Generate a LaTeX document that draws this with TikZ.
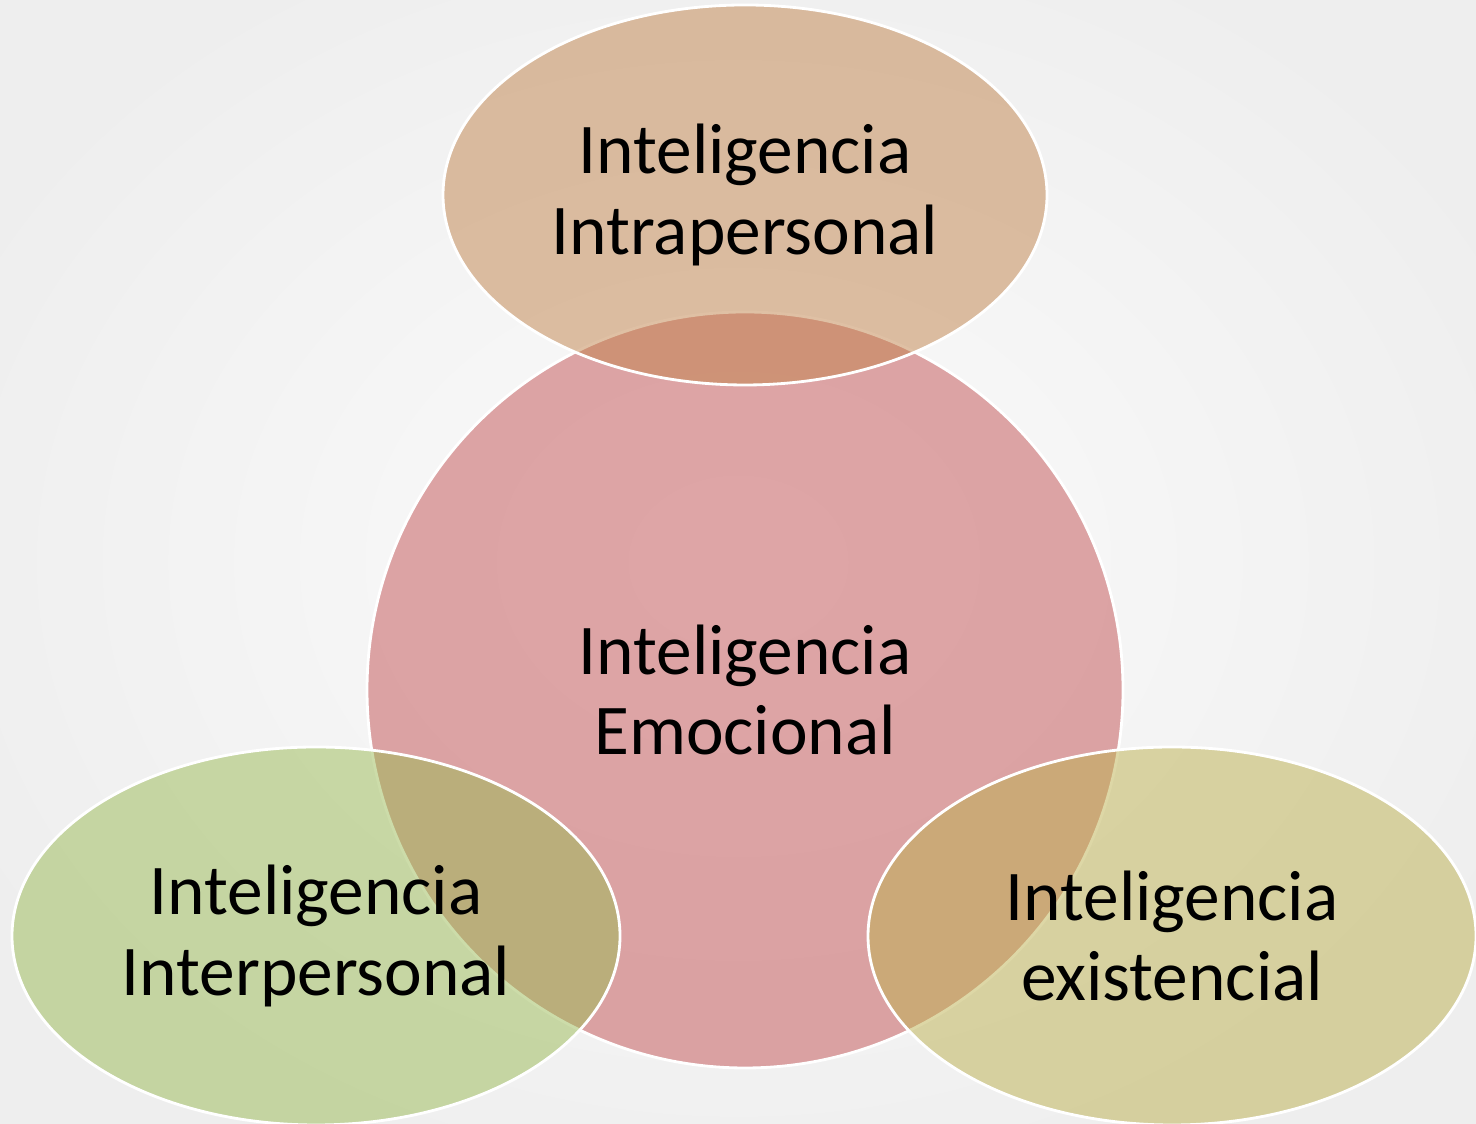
\documentclass[tikz,border=0pt]{standalone}
\usepackage{fontspec}
\setmainfont{Carlito}
\usetikzlibrary{shapes.geometric}
\definecolor{emoRed}{RGB}{195,81,83}
\definecolor{intraTan}{RGB}{193,131,75}
\definecolor{interGreen}{RGB}{155,187,85}
\definecolor{exiOlive}{RGB}{189,177,79}
\tikzset{
  blob/.style={ellipse,draw=white,line width=0.8pt,fill opacity=0.5,
    text opacity=1,inner sep=0pt,align=center,
    font=\fontsize{20.3}{22.8}\selectfont},
  sidebox/.style={blob,minimum width=6.08cm,minimum height=3.78cm}
}
\begin{document}
\begin{tikzpicture}
      \useasboundingbox (0,0) rectangle (14.76,11.24);
      \clip (0,0) rectangle (14.76,11.24);
      \shade[inner color=gray!3,outer color=gray!13] (-1,-1) rectangle (15.76,12.24);
      \node[blob,fill=emoRed,minimum width=7.56cm,minimum height=7.56cm] (emo) at (7.45,4.34) {Inteligencia\\Emocional};
      \node[blob,fill=intraTan,minimum width=6.04cm,minimum height=3.8cm] (intra) at (7.45,9.29) {Inteligencia\\Intrapersonal};
      \node[sidebox,fill=interGreen] (inter) at (3.16,1.88) {Inteligencia\\Interpersonal};
      \node[sidebox,fill=exiOlive] (exi) at (11.72,1.88) {Inteligencia\\existencial};
    \end{tikzpicture}
\end{document}
